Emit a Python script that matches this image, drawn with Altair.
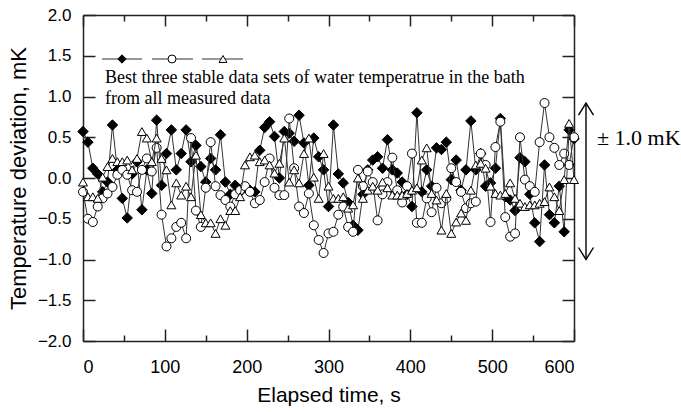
import altair as alt
import pandas as pd

# ---- data ----
time_s = list(range(0, 601, 6))

series_diamond = [
    0.57, 0.44, 0.12, 0.05, -0.17, -0.05, 0.65, 0.10, -0.25, -0.49,
    0.05, 0.20, -0.39, 0.10, -0.19, 0.71, -0.09, 0.30, 0.59, 0.10,
    0.30, 0.59, 0.20, 0.40, 0.14, -0.05, 0.24, 0.10, 0.53, -0.05,
    -0.20, -0.09, -0.17, -0.12, -0.15, -0.17, 0.34, 0.62, 0.69, 0.51,
    0.00, 0.57, 0.55, 0.45, 0.77, 0.43, -0.09, 0.49, 0.26, 0.10,
    -0.35, 0.65, 0.05, -0.06, -0.30, -0.58, -0.64, -0.20, 0.10, 0.22,
    0.26, 0.12, 0.47, 0.10, 0.06, -0.05, -0.20, -0.35, 0.80, -0.17,
    0.10, -0.10, 0.37, 0.35, 0.44, -0.02, 0.22, -0.15, 0.10, 0.70,
    0.10, 0.30, -0.10, -0.06, 0.12, 0.73, -0.23, -0.27, -0.40, 0.25,
    0.20, -0.20, -0.55, -0.78, 0.16, -0.45, -0.55, -0.10, -0.66, 0.59,
    0.48,
]

series_circle = [
    -0.17, -0.50, -0.54, -0.35, -0.25, -0.19, -0.11, 0.04, 0.10, 0.04,
    -0.15, -0.17, 0.10, 0.24, 0.08, 0.37, -0.45, -0.84, -0.74, -0.60,
    -0.55, -0.74, 0.49, -0.40, -0.60, -0.12, 0.44, -0.10, -0.21, -0.27,
    -0.35, -0.20, -0.15, -0.10, -0.17, -0.31, -0.27, -0.05, 0.24, -0.12,
    -0.21, -0.21, 0.73, 0.12, -0.35, -0.43, -0.19, -0.58, -0.76, -0.92,
    -0.68, -0.66, -0.45, -0.35, -0.60, -0.66, 0.10, -0.10, 0.08, -0.05,
    -0.52, -0.20, -0.05, 0.25, -0.15, -0.30, -0.10, 0.30, -0.55, -0.55,
    -0.25, -0.42, -0.12, -0.31, -0.25, 0.12, -0.05, -0.17, -0.37, -0.31,
    -0.29, 0.30, 0.16, -0.54, 0.38, 0.69, -0.48, -0.72, -0.68, 0.50,
    -0.02, -0.10, -0.17, 0.44, 0.92, 0.50, 0.37, 0.16, 0.30, 0.16,
    0.50,
]

series_triangle = [
    -0.05, -0.23, -0.23, -0.25, 0.01, 0.14, 0.24, 0.20, 0.20, 0.22,
    0.10, 0.24, 0.57, 0.49, 0.20, 0.49, 0.24, 0.10, -0.33, -0.06,
    -0.21, -0.10, -0.23, 0.28, -0.45, -0.55, -0.55, -0.68, -0.50, -0.58,
    -0.40, -0.40, -0.23, 0.16, 0.26, 0.28, 0.20, 0.22, 0.16, 0.06,
    0.18, 0.49, -0.05, 0.10, -0.06, 0.30, 0.49, 0.01, -0.25, 0.30,
    -0.10, -0.25, -0.25, -0.23, -0.37, -0.33, 0.00, -0.25, -0.15, -0.10,
    -0.15, -0.05, -0.12, -0.21, -0.21, -0.21, -0.19, -0.15, -0.12, 0.22,
    0.37, -0.19, -0.27, -0.64, -0.19, -0.68, -0.54, -0.43, -0.52, -0.15,
    0.16, 0.18, 0.12, -0.10, -0.19, -0.21, -0.19, -0.06, -0.25, -0.31,
    -0.35, -0.33, -0.33, -0.31, -0.29, -0.11, -0.23, -0.40, -0.02, 0.67,
    -0.02,
]

x_major = [0, 100, 200, 300, 400, 500, 600]
x_minor = [50, 150, 250, 350, 450, 550]
y_ticks = [-2.0, -1.5, -1.0, -0.5, 0.0, 0.5, 1.0, 1.5, 2.0]

legend_line1 = "Best three stable data sets of water temperatrue in the bath"
legend_line2 = "from all measured data"
range_label = "\u00b1 1.0 mK"
range_top = [0.92]
range_bottom = [-1.0]

# ---- layout constants ----
W, H = 491, 326
LINE = "#333333"
FRAME = "#222222"
SANS = "Liberation Sans"
SERIF = "Liberation Serif"

xs = alt.Scale(domain=[0, 600], nice=False, zero=False)
ys = alt.Scale(domain=[-2, 2], nice=False, zero=False)

df_d = pd.DataFrame({"t": time_s, "v": series_diamond})
df_c = pd.DataFrame({"t": time_s, "v": series_circle})
df_t = pd.DataFrame({"t": time_s, "v": series_triangle})
one = pd.DataFrame({"top": range_top, "bottom": range_bottom})


def series_layers(data, shape, fill, size):
    base = alt.Chart(data)
    enc = dict(x=alt.X("t:Q", scale=xs, axis=None), y=alt.Y("v:Q", scale=ys, axis=None))
    line = base.mark_line(color=LINE, strokeWidth=1).encode(**enc)
    pts = base.mark_point(shape=shape, filled=True, fill=fill, stroke="black",
                          strokeWidth=1, size=size, opacity=1).encode(**enc)
    return [line, pts]


common_axis = dict(domainColor=FRAME, domainWidth=1.5, tickColor=FRAME, tickWidth=1.5,
                   grid=False, labelColor="black", titleColor="black")


def x_axis_layer(**kw):
    args = dict(common_axis)
    args.update(kw)
    return alt.Chart(df_d).mark_point(opacity=0).encode(
        x=alt.X("t:Q", scale=xs, axis=alt.Axis(**args)),
        y=alt.Y("v:Q", scale=ys, axis=None))


def y_axis_layer(**kw):
    args = dict(common_axis)
    args.update(kw)
    return alt.Chart(df_d).mark_point(opacity=0).encode(
        x=alt.X("t:Q", scale=xs, axis=None),
        y=alt.Y("v:Q", scale=ys, axis=alt.Axis(**args)))


axes = [
    # bottom frame with labels
    x_axis_layer(orient="bottom", values=x_major, ticks=False, domain=True, labels=True,
                 labelFont=SANS, labelFontSize=18, labelPadding=17,
                 title="Elapsed time, s", titleFont=SANS, titleFontSize=21,
                 titleFontWeight="normal", titlePadding=8),
    # inward ticks at bottom
    x_axis_layer(orient="top", offset=-H, values=x_major, tickSize=12, labels=False,
                 domain=False, title=None),
    x_axis_layer(orient="top", offset=-H, values=x_minor, tickSize=6, labels=False,
                 domain=False, title=None),
    # top frame with inward ticks
    x_axis_layer(orient="bottom", offset=-H, values=x_major, tickSize=11, labels=False,
                 domain=True, title=None),
    x_axis_layer(orient="bottom", offset=-H, values=x_minor, tickSize=6, labels=False,
                 domain=False, title=None),
    # left frame with labels
    y_axis_layer(orient="left", values=y_ticks, ticks=False, domain=True, labels=True,
                 format=".1f", labelFont=SANS, labelFontSize=17, labelPadding=12,
                 title="Temperature deviation, mK", titleFont=SANS, titleFontSize=22,
                 titleFontWeight="normal", titlePadding=7),
    # inward ticks on left
    y_axis_layer(orient="right", offset=-W, values=y_ticks, tickSize=12, labels=False,
                 domain=False, title=None),
    # right frame with inward ticks
    y_axis_layer(orient="left", offset=-W, values=y_ticks, tickSize=12, labels=False,
                 domain=True, title=None),
]

data_layers = (series_layers(df_d, "diamond", "black", 110)
               + series_layers(df_c, "circle", "white", 81)
               + series_layers(df_t, "triangle-up", "white", 81))

# ---- legend (drawn inside the plot) ----
leg_y = 44
legend = []
for (x1, x2, xm, shape, fill, size) in [
    (19, 59, 39, "diamond", "black", 70),
    (69, 110, 89, "circle", "white", 64),
    (119, 160, 140, "triangle-up", "white", 64),
]:
    legend.append(alt.Chart(one).mark_rule(color=LINE, strokeWidth=1).encode(
        x=alt.value(x1), x2=alt.value(x2), y=alt.value(leg_y)))
    legend.append(alt.Chart(one).mark_point(shape=shape, filled=True, fill=fill, stroke="black",
                                            strokeWidth=1, size=size, opacity=1).encode(
        x=alt.value(xm), y=alt.value(leg_y)))

legend.append(alt.Chart(one).mark_text(
    text=[legend_line1, legend_line2], font=SERIF, fontSize=18, lineHeight=21,
    align="left", baseline="alphabetic", color="black").encode(
    x=alt.value(22), y=alt.value(68)))

# ---- ±1.0 mK arrow ----
ARROW_X = 503
arrow = [
    alt.Chart(one).mark_rule(color="black", strokeWidth=1.4).encode(
        x=alt.value(ARROW_X),
        y=alt.Y("top:Q", scale=ys, axis=None), y2="bottom:Q"),
    alt.Chart(one).mark_point(shape="M-1,1.6L0,0L1,1.6", filled=False, color="black",
                              strokeWidth=1.4, size=225, opacity=1).encode(
        x=alt.value(ARROW_X), y=alt.Y("top:Q", scale=ys, axis=None)),
    alt.Chart(one).mark_point(shape="M-1,-1.6L0,0L1,-1.6", filled=False, color="black",
                              strokeWidth=1.4, size=225, opacity=1).encode(
        x=alt.value(ARROW_X), y=alt.Y("bottom:Q", scale=ys, axis=None)),
    alt.Chart(one).mark_text(text=range_label, font=SERIF, fontSize=22, align="left",
                             baseline="middle", color="black").encode(
        x=alt.value(514), y=alt.value(123)),
]

chart = alt.layer(*(axes + data_layers + legend + arrow)).resolve_axis(
    x="independent", y="independent"
).properties(
    width=W, height=H,
    padding={"left": 83, "top": 15, "right": 107, "bottom": 71},
    autosize=alt.AutoSizeParams(type="none"),
    background="white",
).configure_view(strokeWidth=0)

chart.save("out.html", embed_options={"renderer": "svg", "actions": False})
